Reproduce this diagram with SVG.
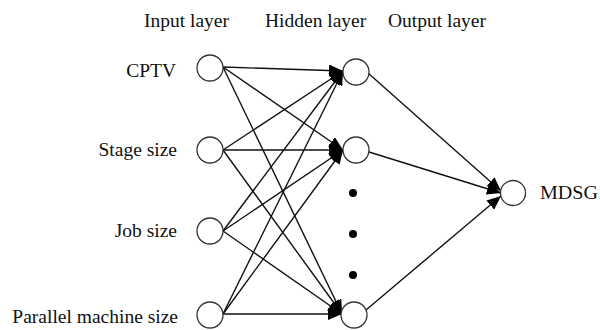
<svg xmlns="http://www.w3.org/2000/svg" width="600" height="330" viewBox="0 0 600 330">
<defs>
<style>
text{font-family:"Liberation Serif","Times New Roman",serif;font-size:19.5px;fill:#111}
.lbl{text-anchor:end}
.node{fill:#fff;stroke:#333;stroke-width:1.3}
.edge{stroke:#111;stroke-width:1.4;fill:none;marker-end:url(#ah)}
.dot{fill:#000}
</style>
<marker id="ah" viewBox="0 0 14 12" refX="14" refY="6" markerWidth="14" markerHeight="12" markerUnits="userSpaceOnUse" orient="auto">
<path d="M0,0 L14,6 L0,12 Z" fill="#000"/>
</marker>
</defs>
<rect width="600" height="330" fill="#fff"/>
<g id="titles">
<text x="144" y="27">Input layer</text>
<text x="265" y="27">Hidden layer</text>
<text x="388" y="27">Output layer</text>
</g>
<g id="connectors">
<line class="edge" x1="223" y1="67" x2="343" y2="71"/>
<line class="edge" x1="223" y1="67" x2="343" y2="150"/>
<line class="edge" x1="223" y1="67" x2="342" y2="314"/>
<line class="edge" x1="223" y1="150" x2="343" y2="71"/>
<line class="edge" x1="223" y1="150" x2="343" y2="150"/>
<line class="edge" x1="223" y1="150" x2="342" y2="314"/>
<line class="edge" x1="223" y1="231" x2="343" y2="71"/>
<line class="edge" x1="223" y1="231" x2="343" y2="150"/>
<line class="edge" x1="223" y1="231" x2="342" y2="314"/>
<line class="edge" x1="223" y1="314" x2="343" y2="71"/>
<line class="edge" x1="223" y1="314" x2="343" y2="150"/>
<line class="edge" x1="223" y1="314" x2="342" y2="314"/>
<line class="edge" x1="368" y1="73" x2="501" y2="191"/>
<line class="edge" x1="369" y1="152" x2="501" y2="193"/>
<line class="edge" x1="366" y1="310" x2="501" y2="196"/>
</g>
<g id="in1"><circle class="node" cx="210" cy="68" r="13"/><text class="lbl" x="176" y="77">CPTV</text></g>
<g id="in2"><circle class="node" cx="210" cy="150" r="13"/><text class="lbl" x="177" y="156">Stage size</text></g>
<g id="in3"><circle class="node" cx="210" cy="231" r="13"/><text class="lbl" x="177" y="237">Job size</text></g>
<g id="in4"><circle class="node" cx="210" cy="315" r="13"/><text class="lbl" x="178" y="323">Parallel machine size</text></g>
<g id="h1"><circle class="node" cx="356" cy="72" r="13"/></g>
<g id="h2"><circle class="node" cx="356" cy="150" r="13"/></g>
<g id="h3"><circle class="node" cx="354" cy="315" r="13"/></g>
<g id="ellipsis">
<circle class="dot" cx="353" cy="193" r="4"/>
<circle class="dot" cx="353" cy="234" r="4"/>
<circle class="dot" cx="353" cy="275" r="4"/>
</g>
<g id="out"><circle class="node" cx="513" cy="193" r="12.5"/><text x="540" y="199" textLength="58" lengthAdjust="spacingAndGlyphs">MDSG</text></g>
</svg>
